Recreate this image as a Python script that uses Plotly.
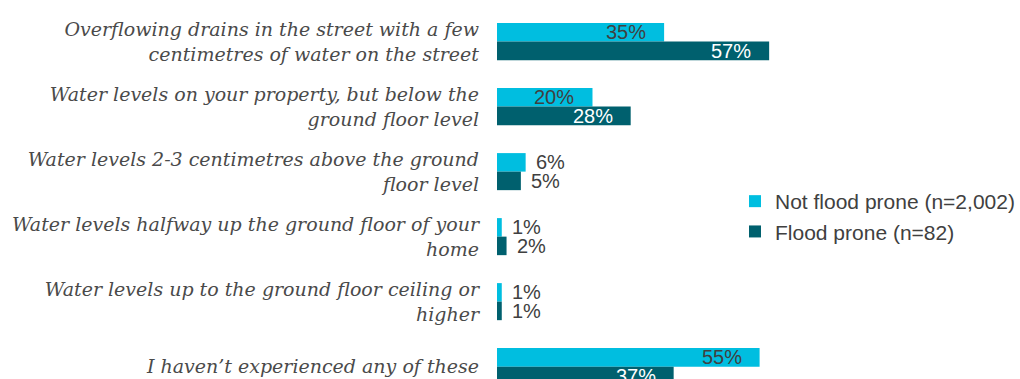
import plotly.graph_objects as go

# Survey responses: share of respondents who experienced each flooding level
categories = [
    "Overflowing drains in the street with a few<br>centimetres of water on the street",
    "Water levels on your property, but below the<br>ground floor level",
    "Water levels 2-3 centimetres above the ground<br>floor level",
    "Water levels halfway up the ground floor of your<br>home",
    "Water levels up to the ground floor ceiling or<br>higher",
    "I haven’t experienced any of these",
]
not_flood_prone = [35, 20, 6, 1, 1, 55]
flood_prone = [57, 28, 5, 2, 1, 37]
series_names = ["Not flood prone (n=2,002)", "Flood prone (n=82)"]

# Styling
W, H = 1020, 379
LEFT = 497
COLORS = ["#00BEE0", "#00606E"]
INSIDE_TEXT = ["#404040", "#FFFFFF"]
TEXT_GRAY = "#404040"
BARGAP = 0.43
Y_RANGE = [5.19, -0.64]
X_MAX = 108.7

fig = go.Figure()
for name, vals, col in zip(series_names, [not_flood_prone, flood_prone], COLORS):
    fig.add_trace(go.Bar(
        y=categories, x=vals, name=name, orientation="h",
        marker=dict(color=col, line=dict(width=0)),
        hoverinfo="skip",
    ))

# Value labels: inside the bar end for long bars, just outside for short ones
row_px = H / (Y_RANGE[0] - Y_RANGE[1])
half_bar = row_px * (1 - BARGAP) / 4
annotations = []
for s, vals in enumerate([not_flood_prone, flood_prone]):
    shift = half_bar if s == 0 else -half_bar
    for cat, v in zip(categories, vals):
        inside = v >= 15
        annotations.append(dict(
            x=v, y=cat, xref="x", yref="y", text=f"{v}%", showarrow=False,
            xanchor="right" if inside else "left",
            xshift=-16 if inside else 8, yshift=shift,
            font=dict(family="Liberation Sans, Arial", size=20,
                      color=INSIDE_TEXT[s] if inside else TEXT_GRAY),
        ))

fig.update_layout(
    width=W, height=H,
    margin=dict(l=LEFT, r=0, t=0, b=0),
    paper_bgcolor="white", plot_bgcolor="white",
    barmode="group", bargap=BARGAP, bargroupgap=0,
    showlegend=True,
    legend=dict(
        x=(737 - LEFT) / (W - LEFT), y=1 - 181 / H,
        xanchor="left", yanchor="top",
        font=dict(family="Liberation Sans, Arial", size=21, color=TEXT_GRAY),
        bgcolor="rgba(0,0,0,0)", itemwidth=30, tracegroupgap=0,
    ),
    xaxis=dict(range=[0, X_MAX], visible=False, fixedrange=True),
    yaxis=dict(
        range=Y_RANGE, showgrid=False, zeroline=False, showline=False,
        ticks="", ticklabelstandoff=17,
        tickfont=dict(family="DejaVu Serif", size=19, style="italic",
                      color="#4a4a4a"),
    ),
    annotations=annotations,
)

fig.write_html("out.html")
